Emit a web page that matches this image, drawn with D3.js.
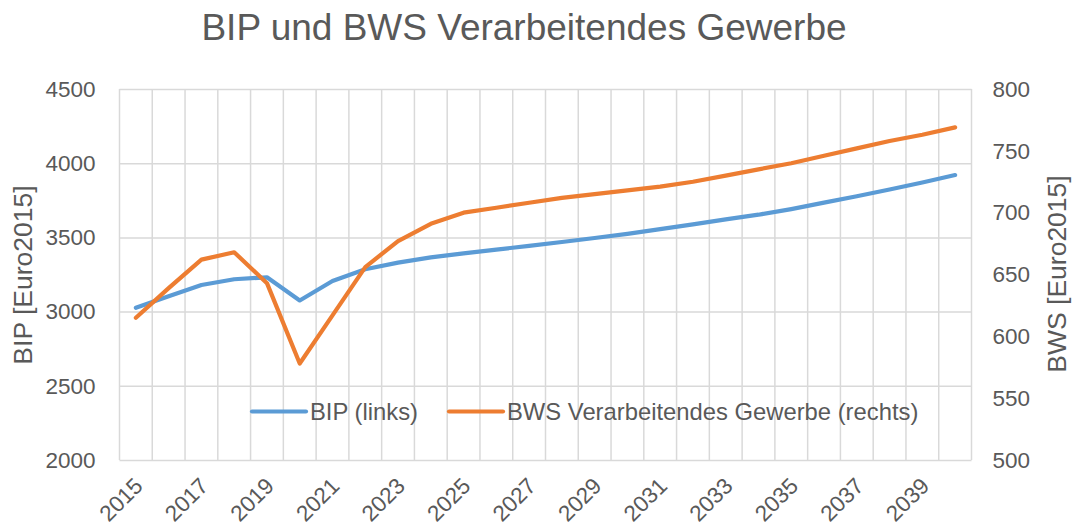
<!DOCTYPE html>
<html>
<head>
<meta charset="utf-8">
<script src="https://cdn.jsdelivr.net/npm/d3@7"></script>
<style>
  body { margin: 0; background: #fff; }
  svg { display: block; font-family: "Liberation Sans", Arial, sans-serif; }
</style>
</head>
<body>
<svg id="chart"></svg>
<script>
// data
const years = [2015, 2016, 2017, 2018, 2019, 2020, 2021, 2022, 2023, 2024, 2025, 2026, 2027,
               2028, 2029, 2030, 2031, 2032, 2033, 2034, 2035, 2036, 2037, 2038, 2039, 2040]
const bip = [3026, 3104, 3179, 3218, 3231, 3075, 3206, 3285, 3330, 3365, 3392, 3418, 3443,
             3469, 3496, 3524, 3556, 3588, 3621, 3653, 3691, 3734, 3777, 3823, 3870, 3920]
const bws = [615, 639, 662, 668, 643, 578, 617, 656, 677, 691, 700, 704, 708,
             712, 715, 718, 721, 725, 730, 735, 740, 746, 752, 758, 763, 769]
const leftTicks = [2000, 2500, 3000, 3500, 4000, 4500]
const rightTicks = [500, 550, 600, 650, 700, 750, 800]
const xLabels = years.filter((d, i) => i % 2 === 0)

const svgw = 1075
const svgh = 529
const textColor = '#595959'
const gridColor = '#d9d9d9'
const fontFam = '"Liberation Sans", Arial, sans-serif'

const svg = d3.select('#chart')
    .attr('width', svgw)
    .attr('height', svgh)

const xScale = d3.scaleBand()
    .domain(years)
    .range([119.5, 971.5])
    .paddingInner(0)
    .paddingOuter(0)
const cx = d => xScale(d) + xScale.bandwidth() / 2

const yLeft = d3.scaleLinear()
    .domain([2000, 4500])
    .range([460, 89])
const yRight = d3.scaleLinear()
    .domain([500, 800])
    .range([460, 89])

// horizontal grid from left axis
svg.append('g')
    .attr('transform', 'translate(119.5,0)')
    .call(d3.axisLeft(yLeft).tickValues(leftTicks).tickSize(-(971.5 - 119.5)).tickFormat(''))
    .call(g => g.select('.domain').remove())
    .selectAll('.tick line')
    .attr('stroke', gridColor)
    .attr('stroke-width', 1.5)

// vertical category boundaries
const bounds = years.map(d => xScale(d)).concat([xScale.range()[1]])
svg.append('g')
    .selectAll('line')
    .data(bounds)
    .join('line')
    .attr('x1', d => d)
    .attr('x2', d => d)
    .attr('y1', yLeft(4500))
    .attr('y2', yLeft(2000))
    .attr('stroke', gridColor)
    .attr('stroke-width', 1.5)

// left axis labels
svg.append('g')
    .attr('transform', 'translate(119.5,0)')
    .call(d3.axisLeft(yLeft).tickValues(leftTicks).tickSize(0).tickPadding(24).tickFormat(d3.format('d')))
    .call(g => g.select('.domain').remove())
    .selectAll('text')
    .attr('font-size', 22.5)
    .attr('font-family', fontFam)
    .attr('fill', textColor)

// right axis labels
svg.append('g')
    .attr('transform', 'translate(971.5,0)')
    .call(d3.axisRight(yRight).tickValues(rightTicks).tickSize(0).tickPadding(21).tickFormat(d3.format('d')))
    .call(g => g.select('.domain').remove())
    .selectAll('text')
    .attr('font-size', 22.5)
    .attr('font-family', fontFam)
    .attr('fill', textColor)

// x labels, rotated
svg.append('g')
    .selectAll('text')
    .data(xLabels)
    .join('text')
    .attr('transform', d => `translate(${cx(d) - 3},${476}) rotate(-45)`)
    .attr('text-anchor', 'end')
    .attr('dy', '0.71em')
    .attr('font-size', 22.5)
    .attr('fill', textColor)
    .text(d => d)

// lines
const lineLeft = d3.line()
    .x((d, i) => cx(years[i]))
    .y(d => yLeft(d))
const lineRight = d3.line()
    .x((d, i) => cx(years[i]))
    .y(d => yRight(d))

svg.append('path')
    .datum(bip)
    .attr('d', lineLeft)
    .attr('fill', 'none')
    .attr('stroke', '#5b9bd5')
    .attr('stroke-width', 4.2)
    .attr('stroke-linecap', 'round')
    .attr('stroke-linejoin', 'round')

svg.append('path')
    .datum(bws)
    .attr('d', lineRight)
    .attr('fill', 'none')
    .attr('stroke', '#ed7d31')
    .attr('stroke-width', 4.2)
    .attr('stroke-linecap', 'round')
    .attr('stroke-linejoin', 'round')

// title
svg.append('text')
    .attr('x', 524)
    .attr('y', 40)
    .attr('text-anchor', 'middle')
    .attr('font-size', 37)
    .attr('fill', textColor)
    .text('BIP und BWS Verarbeitendes Gewerbe')

// axis titles
svg.append('text')
    .attr('transform', 'translate(32,275) rotate(-90)')
    .attr('text-anchor', 'middle')
    .attr('font-size', 26.5)
    .attr('fill', textColor)
    .text('BIP [Euro2015]')

svg.append('text')
    .attr('transform', 'translate(1066,274) rotate(-90)')
    .attr('text-anchor', 'middle')
    .attr('font-size', 26.5)
    .attr('fill', textColor)
    .text('BWS [Euro2015]')

// legend
const legend = [
    { label: 'BIP (links)', color: '#5b9bd5', x: 252 },
    { label: 'BWS Verarbeitendes Gewerbe (rechts)', color: '#ed7d31', x: 449 }
]
const lg = svg.append('g')
legend.forEach(l => {
    lg.append('line')
        .attr('x1', l.x)
        .attr('x2', l.x + 54)
        .attr('y1', 411.5)
        .attr('y2', 411.5)
        .attr('stroke', l.color)
        .attr('stroke-width', 4.2)
        .attr('stroke-linecap', 'round')
    lg.append('text')
        .attr('x', l.x + 58)
        .attr('y', 419.5)
        .attr('font-size', 23.8)
        .attr('fill', textColor)
        .text(l.label)
})
</script>
</body>
</html>
